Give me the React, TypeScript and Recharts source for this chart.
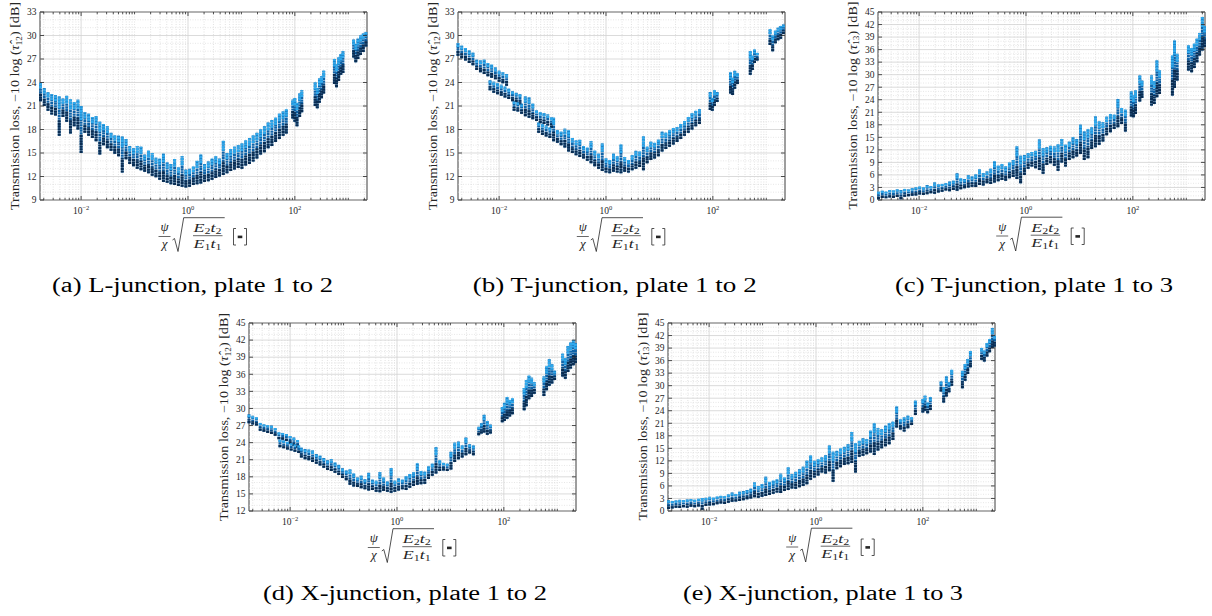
import React from 'react';
import {
  ScatterChart,
  Scatter,
  XAxis,
  YAxis,
  ErrorBar,
  ReferenceLine,
  ReferenceArea,
} from 'recharts';

// x axis: log10 of the stiffness parameter
const X_MIN = 0.0017;
const X_MAX = 2240;
const xMajorTicks = [0.01, 1, 100];
const xMajorLabels = ['\u22122', '0', '2'];
const xDecades = [0.001, 0.01, 0.1, 1, 10, 100, 1000];
const xMinorSteps = [2, 3, 4, 5, 6, 7, 8, 9];

const yTicksA = [9, 12, 15, 18, 21, 24, 27, 30, 33];
const yTicksC = [0, 3, 6, 9, 12, 15, 18, 21, 24, 27, 30, 33, 36, 39, 42, 45];
const yTicksD = [12, 15, 18, 21, 24, 27, 30, 33, 36, 39, 42, 45];

// each entry is one vertical streak of points: log10(x), lowest and highest dB
// (a) L-junction, plate 1 to 2
const aLogX = [-2.76, -2.69, -2.62, -2.55, -2.48, -2.41, -2.34, -2.27, -2.2, -2.13, -2.06, -2.0, -1.93, -1.86, -1.79, -1.72, -1.65, -1.58, -1.51, -1.44, -1.37, -1.3, -1.23, -1.16, -1.09, -1.02, -0.95, -0.88, -0.81, -0.74, -0.67, -0.6, -0.53, -0.46, -0.39, -0.32, -0.25, -0.18, -0.11, -0.04, 0.03, 0.1, 0.17, 0.24, 0.31, 0.38, 0.45, 0.52, 0.59, 0.66, 0.73, 0.8, 0.87, 0.94, 1.01, 1.08, 1.15, 1.22, 1.29, 1.36, 1.43, 1.5, 1.57, 1.64, 1.71, 1.78, 1.84, 1.96, 2.0, 2.04, 2.09, 2.13, 2.38, 2.42, 2.46, 2.5, 2.54, 2.74, 2.78, 2.82, 2.86, 2.9, 3.1, 3.14, 3.18, 3.23, 3.28, 3.33];
const aLo = [21.6, 21.0, 20.4, 19.9, 19.8, 17.2, 19.6, 19.0, 17.5, 18.4, 18.0, 15.0, 17.6, 17.2, 16.9, 16.5, 14.8, 16.0, 15.6, 15.3, 14.9, 14.6, 12.5, 14.2, 13.6, 13.3, 13.0, 12.8, 12.6, 12.4, 12.1, 11.9, 11.6, 11.3, 11.2, 11.0, 10.9, 10.8, 10.7, 10.6, 10.7, 10.9, 11.0, 11.1, 11.3, 11.4, 11.6, 11.8, 12.0, 12.2, 12.4, 12.7, 12.9, 13.1, 13.0, 13.4, 13.6, 13.9, 14.3, 14.8, 15.1, 15.6, 15.9, 16.4, 16.8, 17.2, 17.5, 19.4, 19.0, 18.4, 19.6, 20.2, 21.0, 20.7, 21.4, 22.0, 22.6, 23.8, 23.4, 24.2, 25.0, 25.2, 27.2, 26.6, 27.0, 27.5, 27.9, 28.6];
const aHi = [24.0, 23.3, 22.8, 22.5, 22.4, 22.2, 22.0, 22.3, 21.9, 21.5, 21.8, 21.0, 20.2, 20.0, 19.6, 19.7, 19.0, 18.7, 18.4, 17.6, 17.3, 17.2, 17.1, 16.8, 15.9, 15.6, 15.9, 15.8, 14.8, 15.3, 15.0, 14.4, 14.3, 14.9, 13.8, 13.6, 14.3, 13.2, 14.6, 12.9, 13.0, 13.3, 14.0, 14.8, 13.6, 13.9, 14.3, 14.6, 14.3, 16.6, 15.0, 15.5, 15.8, 16.0, 16.2, 16.6, 16.9, 17.3, 17.6, 18.0, 18.4, 18.9, 19.2, 19.5, 20.0, 20.3, 20.6, 21.8, 22.0, 21.4, 22.6, 23.0, 24.0, 23.3, 24.5, 24.8, 25.5, 27.0, 26.3, 27.2, 27.6, 28.0, 29.5, 28.9, 29.6, 30.0, 30.3, 30.4];

// (b) T-junction, plate 1 to 2
const bLogX = [-2.77, -2.7, -2.63, -2.56, -2.49, -2.42, -2.35, -2.28, -2.21, -2.14, -2.07, -2.0, -1.93, -1.86, -2.17, -2.1, -2.03, -1.96, -1.89, -1.82, -1.75, -1.68, -1.61, -1.72, -1.65, -1.58, -1.51, -1.44, -1.37, -1.3, -1.23, -1.16, -1.09, -1.02, -1.26, -1.19, -1.12, -1.05, -0.98, -0.91, -0.84, -0.77, -0.7, -0.63, -0.56, -0.49, -0.42, -0.35, -0.28, -0.21, -0.14, -0.07, 0.0, 0.07, 0.14, 0.21, 0.28, 0.35, 0.42, 0.49, 0.56, 0.63, 0.7, 0.77, 0.84, 0.91, 0.98, 1.05, 1.12, 1.19, 1.26, 1.33, 1.4, 1.47, 1.54, 1.61, 1.68, 1.75, 1.95, 1.99, 2.03, 2.08, 2.33, 2.37, 2.41, 2.46, 2.7, 2.74, 2.78, 2.83, 3.07, 3.12, 3.17, 3.22, 3.27, 3.32];
const bLo = [27.4, 27.1, 26.8, 26.5, 26.2, 25.6, 25.3, 25.1, 24.8, 24.6, 24.4, 24.1, 23.9, 23.6, 23.0, 22.7, 22.5, 22.3, 22.1, 21.9, 21.6, 21.5, 21.2, 20.4, 20.3, 20.0, 19.7, 19.5, 19.3, 19.1, 18.8, 18.7, 18.5, 18.2, 17.6, 17.3, 17.1, 16.9, 16.5, 16.3, 16.0, 15.7, 15.2, 15.0, 14.7, 14.5, 14.3, 14.0, 13.7, 13.3, 13.0, 12.7, 12.5, 12.4, 12.6, 12.5, 12.4, 12.6, 12.5, 12.8, 13.0, 13.2, 12.8, 13.7, 14.1, 14.3, 14.6, 15.2, 15.5, 15.8, 16.1, 16.4, 16.8, 17.2, 17.6, 18.0, 18.4, 18.7, 20.5, 20.4, 21.0, 21.5, 22.6, 22.4, 23.2, 23.8, 25.0, 25.6, 26.5, 26.8, 28.8, 28.0, 29.0, 29.4, 29.6, 30.2];
const bHi = [29.0, 28.7, 28.4, 28.1, 27.8, 26.9, 26.8, 26.9, 26.5, 26.3, 25.9, 25.5, 25.3, 25.1, 24.3, 24.1, 23.9, 23.7, 23.5, 23.2, 22.9, 22.7, 22.5, 21.6, 21.5, 21.3, 22.2, 22.1, 21.3, 20.5, 20.2, 20.1, 19.9, 19.6, 18.9, 18.7, 18.5, 18.3, 19.5, 17.9, 17.7, 18.1, 17.9, 16.9, 16.6, 16.7, 15.9, 15.7, 16.5, 15.3, 14.9, 16.2, 14.3, 14.1, 14.9, 14.6, 16.1, 14.5, 14.1, 14.7, 15.3, 15.2, 17.1, 15.8, 16.5, 16.3, 16.7, 17.7, 17.6, 17.9, 18.2, 18.3, 18.7, 19.1, 19.6, 20.1, 20.4, 20.6, 22.8, 22.0, 23.0, 22.8, 25.3, 24.6, 25.5, 25.2, 28.0, 27.4, 28.2, 27.8, 30.8, 30.0, 30.6, 31.0, 31.2, 31.4];

// (c) T-junction, plate 1 to 3
const cLogX = [-2.76, -2.69, -2.62, -2.55, -2.48, -2.41, -2.34, -2.27, -2.2, -2.13, -2.06, -1.99, -1.92, -1.85, -1.78, -1.71, -1.64, -1.57, -1.5, -1.43, -1.36, -1.29, -1.22, -1.15, -1.08, -1.01, -0.94, -0.87, -0.8, -0.73, -0.66, -0.59, -0.52, -0.45, -0.38, -0.31, -0.24, -0.17, -0.1, -0.03, 0.04, 0.11, 0.18, 0.25, 0.32, 0.39, 0.46, 0.53, 0.6, 0.67, 0.74, 0.81, 0.88, 0.95, 1.02, 1.09, 1.16, 1.23, 1.3, 1.37, 1.44, 1.51, 1.58, 1.65, 1.72, 1.79, 1.86, 1.97, 2.01, 2.05, 2.13, 2.17, 2.35, 2.4, 2.45, 2.5, 2.74, 2.78, 2.83, 3.04, 3.1, 3.15, 3.2, 3.25, 3.3, 3.34];
const cLo = [0.2, 0.5, 0.4, 0.6, 0.5, 0.7, 0.2, 0.8, 0.9, 1.0, 1.1, 1.3, 1.2, 1.4, 1.6, 1.5, 1.8, 2.0, 2.3, 2.1, 2.4, 2.2, 2.6, 2.8, 3.0, 3.2, 3.1, 3.6, 3.5, 4.0, 3.8, 4.2, 4.5, 4.8, 4.6, 5.2, 5.5, 5.0, 4.0, 6.0, 7.5, 8.0, 7.6, 7.2, 6.3, 8.4, 8.8, 8.2, 7.0, 9.0, 8.0, 9.6, 10.0, 10.4, 11.0, 9.6, 10.0, 12.2, 12.6, 13.2, 14.0, 15.5, 16.2, 17.0, 17.4, 18.2, 16.4, 20.0, 19.8, 20.6, 23.6, 24.4, 22.6, 23.0, 24.6, 25.4, 25.0, 26.8, 28.6, 31.0, 30.6, 31.6, 33.0, 34.6, 35.8, 36.6];
const cHi = [2.0, 2.2, 2.0, 2.4, 2.3, 2.6, 2.4, 2.7, 2.5, 2.8, 3.1, 3.3, 3.0, 3.6, 3.3, 4.2, 3.8, 3.9, 4.0, 4.4, 4.6, 6.4, 5.2, 5.0, 5.9, 5.6, 6.1, 7.3, 6.4, 6.8, 7.5, 9.3, 8.2, 8.6, 8.0, 9.0, 9.6, 12.8, 10.6, 10.8, 11.2, 11.5, 11.8, 14.5, 12.4, 12.6, 13.0, 12.8, 13.4, 14.6, 13.2, 14.0, 15.0, 14.6, 18.0, 16.4, 17.0, 17.4, 20.0, 18.8, 18.6, 20.0, 20.6, 20.4, 24.2, 22.0, 21.6, 26.0, 25.0, 26.2, 29.8, 28.6, 29.8, 28.4, 33.4, 31.0, 34.6, 38.2, 35.0, 37.0, 36.4, 37.4, 38.6, 40.0, 43.8, 41.6];

// (d) X-junction, plate 1 to 2
const dLogX = [-2.77, -2.7, -2.63, -2.56, -2.49, -2.42, -2.35, -2.28, -2.21, -2.14, -2.07, -2.0, -1.93, -1.86, -2.19, -2.12, -2.05, -1.98, -1.91, -1.84, -1.79, -1.72, -1.65, -1.58, -1.51, -1.44, -1.37, -1.3, -1.23, -1.16, -1.09, -1.02, -0.95, -0.88, -0.81, -0.74, -0.67, -0.6, -0.53, -0.46, -0.39, -0.32, -0.25, -0.18, -0.11, -0.04, 0.03, 0.1, 0.17, 0.24, 0.31, 0.38, 0.45, 0.52, 0.59, 0.66, 0.73, 0.8, 0.87, 0.94, 1.01, 1.08, 1.15, 1.22, 1.29, 1.36, 1.43, 1.53, 1.58, 1.63, 1.69, 1.75, 1.97, 2.01, 2.06, 2.11, 2.16, 2.38, 2.42, 2.47, 2.52, 2.57, 2.75, 2.8, 2.85, 2.9, 2.95, 3.1, 3.15, 3.2, 3.25, 3.3, 3.34];
const dLo = [27.4, 27.2, 27.0, 26.1, 25.9, 25.7, 25.5, 25.2, 24.6, 24.5, 24.3, 23.8, 23.4, 23.1, 23.2, 23.0, 22.8, 22.6, 22.4, 22.2, 21.4, 21.1, 20.9, 20.6, 20.3, 20.0, 19.6, 19.2, 19.0, 18.7, 18.3, 17.8, 17.4, 16.6, 16.3, 16.2, 16.0, 15.8, 15.6, 15.7, 15.4, 15.3, 15.5, 15.4, 15.2, 15.4, 15.6, 15.8, 15.7, 16.1, 16.4, 16.6, 16.7, 16.8, 17.6, 18.2, 18.6, 19.0, 19.1, 19.0, 19.3, 20.6, 21.1, 21.4, 21.8, 22.1, 21.8, 25.3, 25.6, 25.8, 25.4, 25.6, 27.6, 27.8, 28.2, 28.6, 29.0, 29.7, 30.4, 31.6, 32.0, 32.6, 32.2, 33.2, 34.0, 34.4, 35.0, 35.6, 35.2, 36.4, 37.0, 37.6, 38.0];
const dHi = [29.0, 28.7, 28.5, 27.5, 27.2, 27.1, 27.0, 26.6, 25.8, 25.7, 25.5, 25.2, 24.9, 24.5, 24.5, 24.4, 24.2, 23.9, 23.7, 23.5, 23.1, 22.9, 22.8, 22.6, 22.0, 21.7, 21.3, 20.9, 21.1, 20.5, 20.1, 19.5, 19.1, 19.3, 18.6, 17.9, 18.2, 17.6, 18.7, 17.5, 17.3, 18.8, 17.9, 17.2, 19.5, 17.3, 17.7, 17.5, 18.1, 18.5, 18.8, 20.4, 19.0, 18.9, 19.8, 20.3, 23.2, 20.9, 20.5, 20.3, 22.4, 24.0, 24.2, 23.5, 24.9, 23.7, 23.5, 26.8, 27.4, 28.9, 27.8, 27.2, 30.2, 31.0, 32.0, 31.5, 31.8, 33.6, 35.0, 35.8, 35.4, 34.6, 35.6, 37.4, 38.7, 37.8, 36.6, 39.6, 38.8, 41.0, 41.6, 42.0, 41.5];

// (e) X-junction, plate 1 to 3
const eLogX = [-2.76, -2.69, -2.62, -2.55, -2.48, -2.41, -2.34, -2.27, -2.2, -2.13, -2.06, -1.99, -1.92, -1.85, -1.78, -1.71, -1.64, -1.57, -1.5, -1.43, -1.36, -1.29, -1.22, -1.15, -1.08, -1.01, -0.94, -0.87, -0.8, -0.73, -0.66, -0.59, -0.52, -0.45, -0.38, -0.31, -0.24, -0.17, -0.1, -0.03, 0.04, 0.11, 0.18, 0.25, 0.32, 0.39, 0.46, 0.53, 0.6, 0.67, 0.74, 0.81, 0.88, 0.95, 1.02, 1.09, 1.16, 1.23, 1.3, 1.37, 1.44, 1.51, 1.58, 1.65, 1.72, 1.79, 1.86, 2.0, 2.04, 2.09, 2.14, 2.34, 2.39, 2.44, 2.49, 2.54, 2.74, 2.79, 2.84, 2.89, 3.1, 3.15, 3.2, 3.25, 3.3, 3.34];
const eLo = [0.5, 0.6, 0.8, 0.7, 0.9, 0.8, 1.0, 0.9, 1.1, 0.3, 1.2, 1.3, 1.4, 1.6, 1.8, 1.7, 2.0, 2.2, 2.3, 2.4, 2.6, 2.8, 3.0, 3.3, 3.2, 3.4, 3.6, 3.8, 4.1, 4.4, 4.3, 4.8, 5.0, 5.4, 5.3, 5.7, 6.0, 6.4, 7.5, 8.0, 8.5, 9.2, 9.0, 9.5, 7.0, 10.0, 10.5, 11.0, 11.2, 11.5, 9.2, 13.0, 13.2, 13.6, 14.0, 13.4, 14.5, 15.0, 15.5, 16.0, 17.0, 20.0, 19.5, 19.0, 19.8, 20.6, 23.0, 23.6, 24.0, 23.4, 24.2, 28.6, 26.0, 27.4, 28.4, 30.0, 29.4, 31.2, 32.8, 34.4, 36.2, 35.8, 37.0, 38.0, 39.0, 39.4];
const eHi = [2.6, 2.4, 2.5, 2.7, 2.6, 2.8, 2.9, 2.7, 3.0, 3.1, 3.2, 3.4, 3.2, 3.5, 3.7, 3.6, 4.0, 4.4, 4.1, 4.6, 4.8, 5.0, 5.3, 6.8, 6.0, 6.4, 8.2, 7.0, 7.3, 7.6, 8.9, 8.0, 10.4, 8.8, 9.4, 10.0, 10.6, 12.0, 13.3, 12.0, 12.4, 12.8, 13.4, 15.7, 14.2, 14.4, 15.0, 15.4, 16.0, 18.9, 16.2, 16.8, 17.4, 17.2, 19.2, 21.0, 19.8, 19.6, 20.4, 21.0, 21.5, 25.0, 22.0, 22.4, 22.8, 22.5, 26.4, 26.8, 27.6, 26.0, 27.2, 31.0, 29.6, 32.2, 30.8, 33.8, 33.6, 35.2, 36.4, 38.3, 39.0, 38.4, 40.2, 41.2, 43.8, 42.0];

const SERIF = '"Liberation Serif", "DejaVu Serif", serif';
const TXT = '#262626';
const PW = 327;
const PH = 188;
const PX0 = 40; // plot left inside each chart svg
const X_TM = 14;

const xMinorTicks = xDecades
  .flatMap((d) => xMinorSteps.map((m) => d * m))
  .concat([0.1, 10, 1000])
  .filter((v) => v > X_MIN && v < X_MAX);
const xAllTicks = [...xMajorTicks, ...xMinorTicks];

const renderNothing = () => <g />;

function XTick(props: any) {
  const { x, y, payload } = props;
  const v = payload.value;
  const k = xMajorTicks.findIndex((t) => Math.abs(t - v) / t < 1e-6);
  const base = y - X_TM;
  const len = k >= 0 ? 4 : 2.2;
  return (
    <g>
      <line x1={x} x2={x} y1={base} y2={base - len} stroke={TXT} strokeWidth={0.8} />
      <line x1={x} x2={x} y1={base - PH} y2={base - PH + len} stroke={TXT} strokeWidth={0.8} />
      {k >= 0 && (
        <text x={x} y={base + 14} textAnchor="middle" fontSize={9.5} fill={TXT} fontFamily={SERIF}>
          10
          <tspan dy={-4} fontSize={6.5}>
            {xMajorLabels[k]}
          </tspan>
        </text>
      )}
    </g>
  );
}

function YTick(props: any) {
  const { y, payload } = props;
  return (
    <g>
      <line x1={PX0} x2={PX0 + 4} y1={y} y2={y} stroke={TXT} strokeWidth={0.8} />
      <line x1={PX0 + PW} x2={PX0 + PW - 4} y1={y} y2={y} stroke={TXT} strokeWidth={0.8} />
      <text x={PX0 - 3.5} y={y + 3.3} textAnchor="end" fontSize={9.5} fill={TXT} fontFamily={SERIF}>
        {payload.value}
      </text>
    </g>
  );
}

interface PanelProps {
  left: number;
  top: number;
  yMin: number;
  yMax: number;
  yTicks: number[];
  logX: number[];
  lo: number[];
  hi: number[];
}

function Panel({ left, top, yMin, yMax, yTicks, logX, lo, hi }: PanelProps) {
  const data = logX.map((e, i) => {
    const d = hi[i] - lo[i];
    return {
      x: Math.pow(10, e),
      lo: lo[i],
      hi: hi[i],
      full: [0, d],
      dark: [0, d * 0.4],
      light: [d * 0.3, 0],
    };
  });
  const yMinor: number[] = [];
  for (let v = yMin + 1; v < yMax; v += 1) if (!yTicks.includes(v)) yMinor.push(v);

  return (
    <div style={{ position: 'absolute', left: left - PX0, top: top - 10 }}>
      <ScatterChart width={PW + 50} height={PH + 35} margin={{ top: 10, right: 10, bottom: 0, left: 0 }}>
        <XAxis
          type="number"
          dataKey="x"
          scale="log"
          domain={[X_MIN, X_MAX]}
          allowDataOverflow
          ticks={xAllTicks}
          interval={0}
          tickSize={0}
          tickMargin={X_TM}
          tickLine={false}
          axisLine={false}
          height={25}
          tick={(p: any) => <XTick {...p} />}
        />
        <YAxis
          yAxisId="l"
          type="number"
          dataKey="lo"
          domain={[yMin, yMax]}
          allowDataOverflow
          ticks={yTicks}
          interval={0}
          tickSize={0}
          tickLine={false}
          axisLine={false}
          width={PX0}
          tick={(p: any) => <YTick {...p} />}
        />
        <YAxis yAxisId="h" type="number" dataKey="hi" domain={[yMin, yMax]} allowDataOverflow hide />
        {xMinorTicks.map((v) => (
          <ReferenceLine key={`xm${v}`} x={v} yAxisId="l" stroke="#cfcfcf" strokeWidth={0.6} strokeDasharray="1 1.5" />
        ))}
        {yMinor.map((v) => (
          <ReferenceLine key={`ym${v}`} y={v} yAxisId="l" stroke="#d6d6d6" strokeWidth={0.6} strokeDasharray="1 1.5" />
        ))}
        {xMajorTicks.map((v) => (
          <ReferenceLine key={`xM${v}`} x={v} yAxisId="l" stroke="#d2d2d2" strokeWidth={0.8} />
        ))}
        {yTicks.map((v) => (
          <ReferenceLine key={`yM${v}`} y={v} yAxisId="l" stroke="#d2d2d2" strokeWidth={0.8} />
        ))}
        <Scatter data={data} yAxisId="l" shape={renderNothing} isAnimationActive={false}>
          <ErrorBar dataKey="full" direction="y" width={0} stroke="#0f63a8" strokeWidth={2.9} strokeDasharray="2.2 0.45" isAnimationActive={false} />
          <ErrorBar dataKey="dark" direction="y" width={0} stroke="#0b2d52" strokeWidth={2.9} strokeDasharray="2.2 0.45" isAnimationActive={false} />
        </Scatter>
        <Scatter data={data} yAxisId="h" shape={renderNothing} isAnimationActive={false}>
          <ErrorBar dataKey="light" direction="y" width={0} stroke="#2ea8ec" strokeWidth={2.9} strokeDasharray="2.2 0.45" isAnimationActive={false} />
        </Scatter>
        <ReferenceArea x1={X_MIN} x2={X_MAX} y1={yMin} y2={yMax} yAxisId="l" fill="none" stroke={TXT} strokeWidth={0.9} />
      </ScatterChart>
    </div>
  );
}

function YLabel({ left, top, sub }: { left: number; top: number; sub: string }) {
  return (
    <text
      transform={`translate(${left - 21} ${top + PH / 2}) rotate(-90)`}
      textAnchor="middle"
      fontSize={11.5}
      fill={TXT}
      fontFamily={SERIF}
      textLength={208}
      lengthAdjust="spacingAndGlyphs"
    >
      Transmission loss, {'\u2212'}10 log (<tspan fontStyle="italic">τ̂</tspan>
      <tspan fontSize={7.5} dy={2.5}>
        {sub}
      </tspan>
      <tspan dy={-2.5}>) [dB]</tspan>
    </text>
  );
}

function XLabel({ left, top }: { left: number; top: number }) {
  const cx = left + PW / 2;
  const by = top + PH;
  return (
    <g fill={TXT} fontFamily={SERIF}>
      <text x={cx - 39} y={by + 31} textAnchor="middle" fontSize={13} fontStyle="italic">
        ψ
      </text>
      <line x1={cx - 45} x2={cx - 33} y1={by + 36.5} y2={by + 36.5} stroke={TXT} strokeWidth={0.7} />
      <text x={cx - 39} y={by + 48} textAnchor="middle" fontSize={13} fontStyle="italic">
        χ
      </text>
      <path
        d={`M${cx - 31},${by + 40} L${cx - 29},${by + 38.5} L${cx - 25.5},${by + 51.5} L${cx - 19.8},${by + 17.7} L${cx + 21.2},${by + 17.7}`}
        fill="none"
        stroke={TXT}
        strokeWidth={0.8}
      />
      <text x={cx + 4} y={by + 32} textAnchor="middle" fontSize={12} textLength={28} lengthAdjust="spacingAndGlyphs">
        <tspan fontStyle="italic">E</tspan>
        <tspan fontSize={8} dy={2}>2</tspan>
        <tspan fontStyle="italic" dy={-2}>t</tspan>
        <tspan fontSize={8} dy={2}>2</tspan>
      </text>
      <line x1={cx - 10.5} x2={cx + 19} y1={by + 35.7} y2={by + 35.7} stroke={TXT} strokeWidth={0.7} />
      <text x={cx + 4} y={by + 47.5} textAnchor="middle" fontSize={12} textLength={28} lengthAdjust="spacingAndGlyphs">
        <tspan fontStyle="italic">E</tspan>
        <tspan fontSize={8} dy={2}>1</tspan>
        <tspan fontStyle="italic" dy={-2}>t</tspan>
        <tspan fontSize={8} dy={2}>1</tspan>
      </text>
      <path
        d={`M${cx + 32.5},${by + 28.5} H${cx + 30} V${by + 45} H${cx + 32.5} M${cx + 40.5},${by + 28.5} H${cx + 43} V${by + 45} H${cx + 40.5}`}
        fill="none"
        stroke={TXT}
        strokeWidth={0.8}
      />
      <rect x={cx + 34.2} y={by + 35.6} width={4.6} height={2.6} fill={TXT} />
    </g>
  );
}

const panels = [
  { key: 'a', left: 40, top: 12, yMin: 9, yMax: 33, yTicks: yTicksA, logX: aLogX, lo: aLo, hi: aHi, sub: '12' },
  { key: 'b', left: 458.3, top: 12, yMin: 9, yMax: 33, yTicks: yTicksA, logX: bLogX, lo: bLo, hi: bHi, sub: '12' },
  { key: 'c', left: 877.7, top: 11.5, yMin: 0, yMax: 45, yTicks: yTicksC, logX: cLogX, lo: cLo, hi: cHi, sub: '13' },
  { key: 'd', left: 249.3, top: 323, yMin: 12, yMax: 45, yTicks: yTicksD, logX: dLogX, lo: dLo, hi: dHi, sub: '12' },
  { key: 'e', left: 667.7, top: 322.5, yMin: 0, yMax: 45, yTicks: yTicksC, logX: eLogX, lo: eLo, hi: eHi, sub: '13' },
];

const captions = [
  { text: '(a) L-junction, plate 1 to 2', x: 192.5, y: 291.5, w: 281 },
  { text: '(b) T-junction, plate 1 to 2', x: 614.7, y: 291.5, w: 284 },
  { text: '(c) T-junction, plate 1 to 3', x: 1034, y: 291.5, w: 278 },
  { text: '(d) X-junction, plate 1 to 2', x: 405, y: 599.5, w: 284 },
  { text: '(e) X-junction, plate 1 to 3', x: 823, y: 599.5, w: 280 },
];

export default function App() {
  return (
    <div style={{ position: 'relative', width: 1212, height: 616, background: '#fff', overflow: 'hidden' }}>
      <style>{'body{margin:0}'}</style>
      {panels.map((p) => (
        <Panel key={p.key} {...p} />
      ))}
      <svg width={1212} height={616} style={{ position: 'absolute', left: 0, top: 0, pointerEvents: 'none' }}>
        {panels.map((p) => (
          <g key={p.key}>
            <YLabel left={p.left} top={p.top} sub={p.sub} />
            <XLabel left={p.left} top={p.top} />
          </g>
        ))}
        {captions.map((c) => (
          <text
            key={c.text}
            x={c.x}
            y={c.y}
            textAnchor="middle"
            fontSize={20}
            fill="#000"
            fontFamily={SERIF}
            textLength={c.w}
            lengthAdjust="spacingAndGlyphs"
          >
            {c.text}
          </text>
        ))}
      </svg>
    </div>
  );
}
